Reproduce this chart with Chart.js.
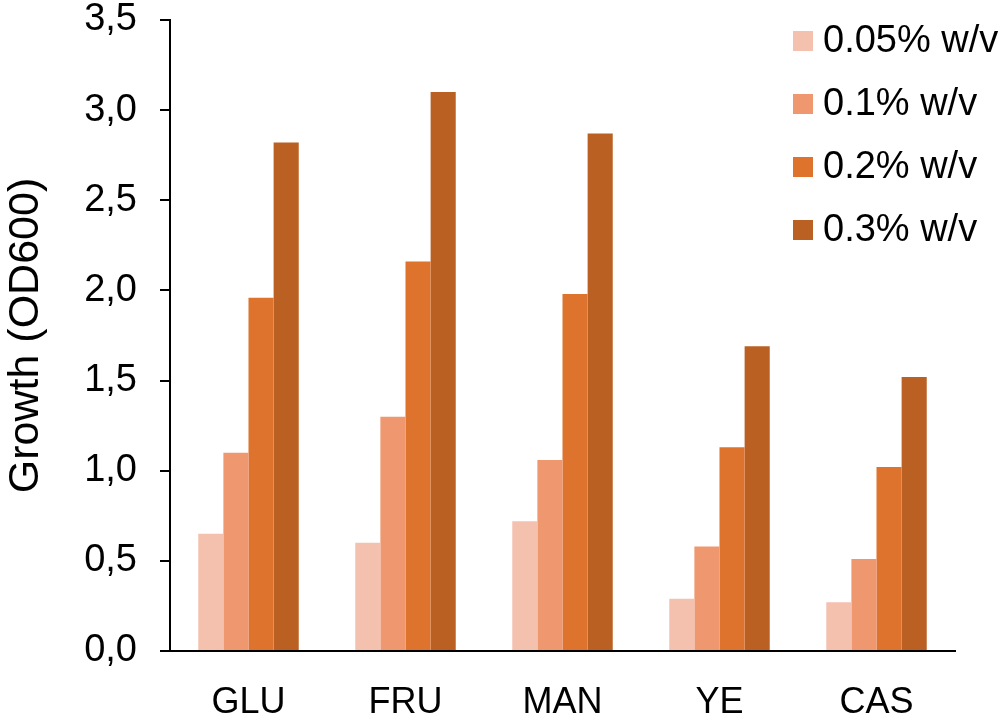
<!DOCTYPE html>
<html>
<head>
<meta charset="utf-8">
<title>Growth (OD600)</title>
<script src="https://cdn.jsdelivr.net/npm/chart.js@4/dist/chart.umd.min.js"></script>
<style>
  html, body { margin: 0; padding: 0; background: #fff; }
  #wrap { width: 1003px; height: 720px; }
</style>
</head>
<body>
<div id="wrap"><canvas id="growthChart"></canvas></div>
<script>
const categories = ["GLU", "FRU", "MAN", "YE", "CAS"];
const seriesLabels = ["0.05% w/v", "0.1% w/v", "0.2% w/v", "0.3% w/v"];

const conc005 = [0.65, 0.60, 0.72, 0.29, 0.27];
const conc01 = [1.10, 1.30, 1.06, 0.58, 0.51];
const conc02 = [1.96, 2.16, 1.98, 1.13, 1.02];
const conc03 = [2.82, 3.10, 2.87, 1.69, 1.52];

const yTicks = [0, 0.5, 1.0, 1.5, 2.0, 2.5, 3.0, 3.5];

const seriesColors = ["#F4C1AF", "#EF9870", "#DE732D", "#BA6023"];
const FONT = "'Liberation Sans', Arial, sans-serif";

// legend drawn in the top right corner, over the plot like in the original
const cornerLegend = {
  id: "cornerLegend",
  afterDraw(chart) {
    const ctx = chart.ctx;
    ctx.save();
    ctx.font = "38px " + FONT;
    ctx.textBaseline = "middle";
    ctx.textAlign = "left";
    chart.data.datasets.forEach((ds, i) => {
      const cy = 41 + i * 63;
      ctx.fillStyle = ds.backgroundColor;
      ctx.fillRect(793, cy - 10, 20, 20);
      ctx.fillStyle = "#000";
      ctx.fillText(ds.label, 823, cy + 1);
    });
    ctx.restore();
  }
};

const allSeries = [conc005, conc01, conc02, conc03];

new Chart(document.getElementById("growthChart"), {
  type: "bar",
  data: {
    labels: categories,
    datasets: allSeries.map((vals, i) => ({
      label: seriesLabels[i],
      data: vals,
      backgroundColor: seriesColors[i],
      borderWidth: 0,
      categoryPercentage: 0.64,
      barPercentage: 1.0
    }))
  },
  options: {
    responsive: true,
    maintainAspectRatio: false,
    animation: false,
    layout: {
      padding: { top: 0, right: 48, bottom: 0, left: 0 }
    },
    plugins: {
      legend: { display: false },
      tooltip: { enabled: false }
    },
    scales: {
      x: {
        grid: { display: false, drawTicks: false },
        border: { display: true, color: "#000", width: 2 },
        ticks: {
          color: "#000",
          padding: 30,
          font: { family: FONT, size: 36 }
        },
        afterFit(scale) { scale.height = 69; }
      },
      y: {
        min: 0,
        max: 3.5,
        afterBuildTicks(scale) {
          scale.ticks = yTicks.map(v => ({ value: v }));
        },
        grid: {
          display: true,
          drawOnChartArea: false,
          drawTicks: true,
          tickLength: 10,
          color: "#000",
          lineWidth: 2
        },
        border: { display: true, color: "#000", width: 2 },
        ticks: {
          color: "#000",
          padding: 23,
          font: { family: FONT, size: 38, lineHeight: 1 },
          callback: v => Number(v).toFixed(1).replace(".", ",")
        },
        title: {
          display: true,
          text: "Growth (OD600)",
          color: "#000",
          padding: { top: 0, bottom: 0 },
          font: { family: FONT, size: 43 }
        },
        afterFit(scale) {
          scale.width = 170;
          // tick padding would otherwise push the top of the axis down
          scale.paddingTop = 20;
        }
      }
    }
  },
  plugins: [cornerLegend]
});
</script>
</body>
</html>
